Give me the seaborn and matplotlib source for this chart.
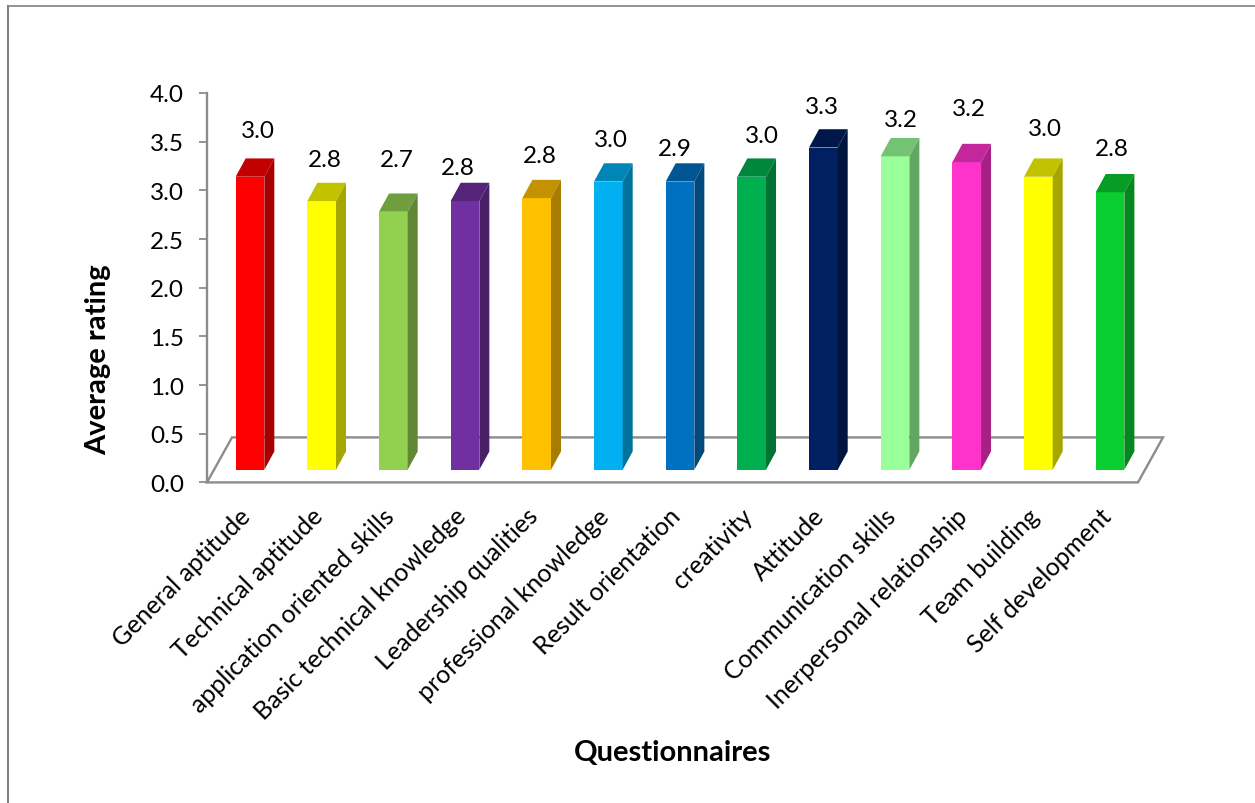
import matplotlib
matplotlib.use('Agg')
import matplotlib.pyplot as plt
from matplotlib.colors import to_rgb
from matplotlib.lines import Line2D
from matplotlib.patches import Polygon
from matplotlib.transforms import ScaledTranslation
import pandas as pd
import seaborn as sns

# Data
questions = ['General aptitude', 'Technical aptitude', 'application oriented skills',
             'Basic technical knowledge', 'Leadership qualities', 'professional knowledge',
             'Result orientation', 'creativity', 'Attitude', 'Communication skills',
             'Inerpersonal relationship', 'Team building', 'Self development']
bar_heights = [3.01, 2.76, 2.65, 2.76, 2.79, 2.96, 2.96, 3.01, 3.31, 3.22, 3.16, 3.01, 2.85]
shown_values = ['3.0', '2.8', '2.7', '2.8', '2.8', '3.0', '2.9', '3.0', '3.3', '3.2', '3.2', '3.0', '2.8']
colors = ['#FF0000', '#FFFF00', '#92D050', '#7030A0', '#FFC000', '#00B0F0', '#0070C0',
          '#00B050', '#002060', '#99FF99', '#FF33CC', '#FFFF00', '#09CE30']

# Hand placed data labels in the original, offsets in pixels from the top of each bar
label_dx = [8, 3, 3, -7, 3, 3, -5, 10, -1, 6, 2, 7, 2]
label_dy = [46, 42, 52, 34, 43, 42, 33, 41, 41, 37, 54, 48, 44]

W, H = 1255, 804
AX_L, AX_R, AX_T, AX_B = 207, 1138, 94, 483.4
BAR_GAP = 71.67
FIRST_BAR = 250
FLOOR = 0.13  # bars stand on the floor, a bit above zero
DEPTH_X = 10 / BAR_GAP
DEPTH_Y = 18.3 / ((AX_B - AX_T) / 4)
GREY = '#8C8C8C'
TEXT_SIZE = 17.5
TITLE_SIZE = 21

plt.rcParams['font.family'] = ['Lato', 'DejaVu Sans']

df = pd.DataFrame({'question': questions, 'height': bar_heights})

fig = plt.figure(figsize=(W / 100, H / 100), dpi=100)
ax = fig.add_axes([AX_L / W, 1 - AX_B / H, (AX_R - AX_L) / W, (AX_B - AX_T) / H])

sns.barplot(data=df, x='question', y='height', hue='question', palette=colors,
            width=0.4, saturation=1, legend=False, ax=ax, zorder=3)

x_lo = (AX_L - FIRST_BAR) / BAR_GAP
x_hi = (AX_R - FIRST_BAR) / BAR_GAP
ax.set_xlim(x_lo, x_hi)
ax.set_ylim(0, 4)


def shade(color, k):
    return tuple(c * k for c in to_rgb(color))


# Fake 3D: lift the front faces onto the floor, then add top and side faces
for bar, color, text, dx, dy in zip(ax.patches, colors, shown_values, label_dx, label_dy):
    bar.set_y(FLOOR)
    x0 = bar.get_x()
    x1 = x0 + bar.get_width()
    top = FLOOR + bar.get_height()
    ax.add_patch(Polygon([(x0, top), (x1, top), (x1 + DEPTH_X, top + DEPTH_Y), (x0 + DEPTH_X, top + DEPTH_Y)],
                         closed=True, fc=shade(color, 0.76), ec='none', zorder=3, clip_on=False))
    ax.add_patch(Polygon([(x1, FLOOR), (x1 + DEPTH_X, FLOOR + DEPTH_Y), (x1 + DEPTH_X, top + DEPTH_Y), (x1, top)],
                         closed=True, fc=shade(color, 0.65), ec='none', zorder=3, clip_on=False))
    ax.annotate(text, xy=((x0 + x1) / 2, top), xytext=(dx, dy), textcoords='offset pixels',
                ha='center', va='center', fontsize=TEXT_SIZE, color='black')

# Floor of the chart
floor_dx = 25 / BAR_GAP
floor_dy = 45 / ((AX_B - AX_T) / 4)
ax.add_patch(Polygon([(x_lo, 0), (x_hi, 0), (x_hi + floor_dx, floor_dy), (x_lo + floor_dx, floor_dy)],
                     closed=True, fc='none', ec=GREY, lw=1.7, zorder=1, clip_on=False))

sns.despine(ax=ax, bottom=True)
ax.spines['left'].set_color(GREY)
ax.spines['left'].set_linewidth(1.7)

ax.set_yticks([0, 0.5, 1, 1.5, 2, 2.5, 3, 3.5, 4])
ax.set_yticklabels(['0.0', '0.5', '1.0', '1.5', '2.0', '2.5', '3.0', '3.5', '4.0'])
ax.tick_params(axis='y', length=5.5, width=1.3, color=GREY, labelsize=TEXT_SIZE, pad=11)
ax.set_xticks(range(len(questions)))
ax.set_xticklabels(questions, rotation=45, ha='right', rotation_mode='anchor', fontsize=18)
ax.tick_params(axis='x', length=0, pad=14)
shift = ScaledTranslation(-11 / 100, -2 / 100, fig.dpi_scale_trans)
for lab in ax.get_xticklabels():
    lab.set_transform(lab.get_transform() + shift)
ax.set_xlabel('')
ax.set_ylabel('')

fig.text(673 / W, 1 - 753 / H, 'Questionnaires', fontsize=TITLE_SIZE, fontweight='bold', ha='center', va='center')
fig.text(98 / W, 1 - 360 / H, 'Average rating', fontsize=TITLE_SIZE, fontweight='bold', rotation=90, ha='center', va='center')

# Outer frame, only top and left edges are visible in the crop
fig.add_artist(Line2D([8 / W, 8 / W], [0, 1 - 7 / H], color='#808080', lw=1.5))
fig.add_artist(Line2D([8 / W, 1], [1 - 7 / H, 1 - 7 / H], color='#808080', lw=1.2))

fig.savefig('out.png', dpi=100)
